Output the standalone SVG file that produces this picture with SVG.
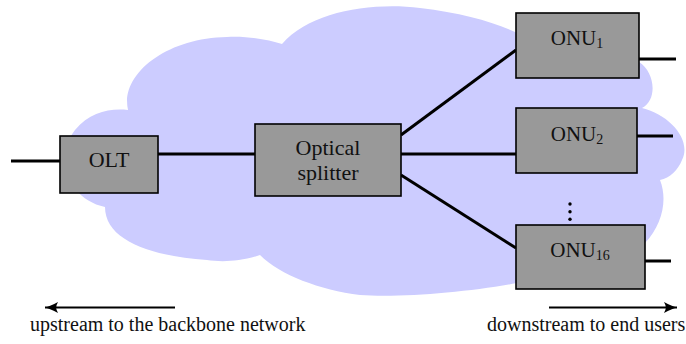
<svg xmlns="http://www.w3.org/2000/svg" width="686" height="344" viewBox="0 0 686 344">
<style>
.box{fill:#999999;stroke:#000;stroke-width:1.6}
.lbl{font-size:22px;fill:#111;text-anchor:middle}
.onu{font-size:21px;fill:#111;text-anchor:middle}
.sub{font-size:14px}
.cap{font-size:20px;fill:#111}
.ln{stroke:#000;stroke-width:3;fill:none}
.arr{stroke:#000;stroke-width:2;fill:none}
</style>
<defs>
<marker id="ah" markerUnits="userSpaceOnUse" markerWidth="18" markerHeight="14" viewBox="-14 -7 15 14" refX="0" refY="0" orient="auto">
<path d="M-13,-5.5 Q-5,-1.2 0,0 Q-5,1.2 -13,5.5 Q-9.5,0 -13,-5.5 Z" fill="#000"/>
</marker>
</defs>
<path id="cloud" fill="#ccccff" d="M105,207 C70,200 52,160 75,130 C90,112 110,108 128,110 C120,75 165,38 227,37 C250,36 268,40 282,44 C310,12 370,2 420,8 C470,14 505,25 530,40 C570,45 620,50 639,62 C655,72 658,100 642,108 C670,115 692,140 682,160 C678,170 670,178 660,180 C668,200 662,225 645,243 C620,270 560,280 517,283 C470,292 400,298 360,295 C320,290 280,275 260,255 C240,262 220,262 207,260 C150,256 105,240 105,207 Z"/>
<g id="connectors">
<line class="ln" x1="11" y1="161" x2="60" y2="161"/>
<line class="ln" x1="158" y1="154" x2="255" y2="154"/>
<line class="ln" x1="401" y1="135" x2="516" y2="50"/>
<line class="ln" x1="401" y1="154" x2="516" y2="154"/>
<line class="ln" x1="401" y1="175" x2="516" y2="248"/>
<line class="ln" x1="639" y1="59" x2="676" y2="59"/>
<line class="ln" x1="637" y1="136" x2="673" y2="136"/>
<line class="ln" x1="645" y1="261" x2="671" y2="261"/>
</g>
<g id="olt">
<rect class="box" x="60" y="136" width="98" height="57"/>
<text class="lbl" font-family="Liberation Serif, Times New Roman, serif" x="109" y="167">OLT</text>
</g>
<g id="splitter">
<rect class="box" x="255" y="124" width="146" height="72"/>
<text class="lbl" font-family="Liberation Serif, Times New Roman, serif" x="328" y="155">Optical</text>
<text class="lbl" font-family="Liberation Serif, Times New Roman, serif" x="328" y="180">splitter</text>
</g>
<g id="onu1">
<rect class="box" x="516" y="13" width="123" height="65"/>
<text class="onu" font-family="Liberation Serif, Times New Roman, serif" x="577" y="45">ONU<tspan class="sub" dy="3">1</tspan></text>
</g>
<g id="onu2">
<rect class="box" x="516" y="108" width="121" height="65"/>
<text class="onu" font-family="Liberation Serif, Times New Roman, serif" x="577" y="141">ONU<tspan class="sub" dy="3">2</tspan></text>
</g>
<g id="dots" fill="#000">
<circle cx="570" cy="204" r="1.7"/>
<circle cx="570" cy="211.7" r="1.7"/>
<circle cx="570" cy="219.3" r="1.7"/>
</g>
<g id="onu16">
<rect class="box" x="516" y="225" width="129" height="64"/>
<text class="onu" font-family="Liberation Serif, Times New Roman, serif" x="580" y="257">ONU<tspan class="sub" dy="3">16</tspan></text>
</g>
<g id="captions">
<line class="arr" x1="175" y1="307.5" x2="45" y2="307.5" marker-end="url(#ah)"/>
<text class="cap" font-family="Liberation Serif, Times New Roman, serif" x="30" y="331">upstream to the backbone network</text>
<line class="arr" x1="549" y1="307.5" x2="677" y2="307.5" marker-end="url(#ah)"/>
<text class="cap" font-family="Liberation Serif, Times New Roman, serif" x="487" y="331">downstream to end users</text>
</g>
</svg>
